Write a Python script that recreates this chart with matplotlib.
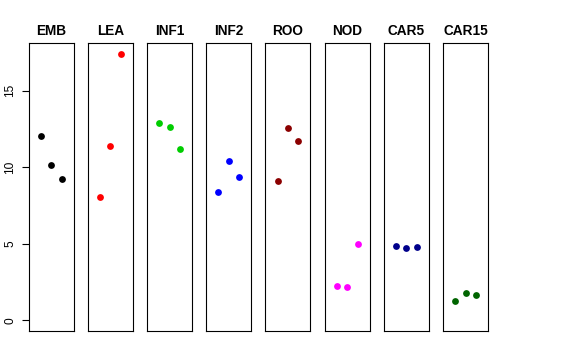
import numpy as np
import matplotlib.pyplot as plt

plt.rcParams['font.family'] = ['Liberation Sans', 'DejaVu Sans']

tissues = ['EMB', 'LEA', 'INF1', 'INF2', 'ROO', 'NOD', 'CAR5', 'CAR15']
colors = ['black', '#FF0000', '#00CD00', '#0000FF', '#8B0000', '#FF00FF', '#00008B', '#006400']

emb = [12.06, 10.12, 9.21]
lea = [8.07, 11.36, 17.41]
inf1 = [12.89, 12.65, 11.21]
inf2 = [8.38, 10.41, 9.38]
roo = [9.08, 12.58, 11.71]
nod = [2.22, 2.17, 4.96]
car5 = [4.85, 4.72, 4.81]
car15 = [1.26, 1.76, 1.67]
values = [emb, lea, inf1, inf2, roo, nod, car5, car15]

reps = [1, 2, 3]
yticks = [0, 5, 10, 15]

W, H = 576, 360
fig = plt.figure(figsize=(W / 100, H / 100), dpi=100)

ymax = max(max(v) for v in values)
ypad = 0.04 * ymax

left0, pitch, pw = 28.7, 59.19, 45.0
top, bottom = 43.0, 331.0

for i, (name, col, vals) in enumerate(zip(tissues, colors, values)):
    x0 = left0 + i * pitch
    ax = fig.add_axes([x0 / W, (H - bottom) / H, pw / W, (bottom - top) / H])
    ax.scatter(reps, vals, s=24, color=col, zorder=3, linewidths=0)
    ax.set_xlim(-0.16, 4.16)
    ax.set_ylim(-ypad, ymax + ypad)
    ax.set_xticks([])
    for sp in ax.spines.values():
        sp.set_linewidth(0.8)
        sp.set_color('black')
    ax.set_title(name, fontsize=9.8, fontweight='bold', pad=6)
    if i == 0:
        ax.set_yticks(yticks)
        ax.set_yticklabels([str(t) for t in yticks], rotation=90, va='center', fontsize=8.6)
        ax.tick_params(axis='y', length=5, width=0.8, pad=4)
    else:
        ax.set_yticks([])

fig.savefig('out.png', dpi=100)
